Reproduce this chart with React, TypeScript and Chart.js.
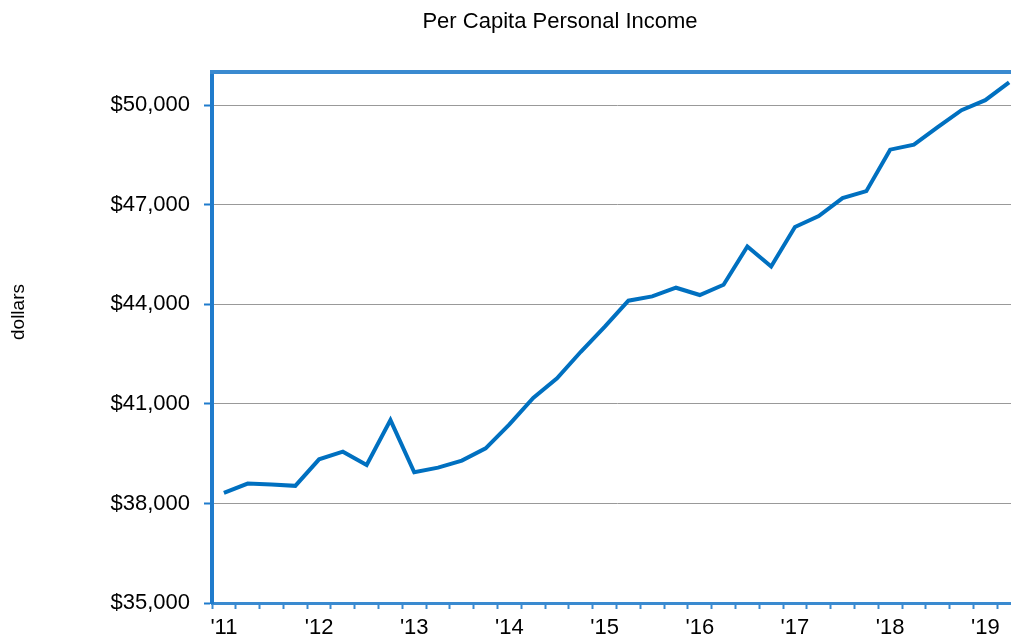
import React, { useEffect, useRef } from 'react';
import { Chart, registerables } from 'chart.js';

Chart.register(...registerables);

// Quarterly periods, Q1 2011 .. Q2 2019
const periods = [
  '2011Q1', '2011Q2', '2011Q3', '2011Q4',
  '2012Q1', '2012Q2', '2012Q3', '2012Q4',
  '2013Q1', '2013Q2', '2013Q3', '2013Q4',
  '2014Q1', '2014Q2', '2014Q3', '2014Q4',
  '2015Q1', '2015Q2', '2015Q3', '2015Q4',
  '2016Q1', '2016Q2', '2016Q3', '2016Q4',
  '2017Q1', '2017Q2', '2017Q3', '2017Q4',
  '2018Q1', '2018Q2', '2018Q3', '2018Q4',
  '2019Q1', '2019Q2',
];

const xTickLabels = [
  "'11", '', '', '',
  "'12", '', '', '',
  "'13", '', '', '',
  "'14", '', '', '',
  "'15", '', '', '',
  "'16", '', '', '',
  "'17", '', '', '',
  "'18", '', '', '',
  "'19", '',
];

const perCapitaIncome = [
  38320, 38600, 38570, 38530,
  39330, 39560, 39160, 40510,
  38940, 39080, 39290, 39660,
  40380, 41180, 41770, 42570,
  43320, 44110, 44240, 44500,
  44280, 44590, 45745, 45140,
  46330, 46660, 47200, 47410,
  48660, 48810, 49340, 49850,
  50150, 50690,
];

const yTickValues = [35000, 38000, 41000, 44000, 47000, 50000];
const yMin = 35000;
const yMax = 51000;

const chartTitle = 'Per Capita Personal Income';
const yAxisTitle = 'dollars';

const FONT = "'Liberation Sans', Arial, Helvetica, sans-serif";
const LINE_BLUE = '#0070C0';
const FRAME_BLUE = '#3a8ad0';
const AXIS_BLUE = '#1f7bcc';

const decorPlugin = {
  id: 'decor',
  afterDraw(chart: any) {
    const { ctx, chartArea } = chart;
    ctx.save();
    // top frame line
    ctx.strokeStyle = FRAME_BLUE;
    ctx.lineWidth = 4;
    ctx.beginPath();
    ctx.moveTo(chartArea.left - 2, chartArea.top);
    ctx.lineTo(chartArea.right, chartArea.top);
    ctx.stroke();
    // chart title
    ctx.fillStyle = '#000';
    ctx.font = `22px ${FONT}`;
    ctx.textAlign = 'center';
    ctx.textBaseline = 'alphabetic';
    ctx.fillText(chartTitle, 560, 28);
    // y-axis title
    ctx.translate(19, 312);
    ctx.rotate(-Math.PI / 2);
    ctx.font = `19px ${FONT}`;
    ctx.textAlign = 'center';
    ctx.textBaseline = 'middle';
    ctx.fillText(yAxisTitle, 0, 0);
    ctx.restore();
  },
};

export default function App() {
  const canvasRef = useRef<HTMLCanvasElement | null>(null);

  useEffect(() => {
    if (!canvasRef.current) return;
    Chart.defaults.font.family = FONT;
    const chart = new Chart(canvasRef.current, {
      type: 'line',
      data: {
        labels: periods,
        datasets: [
          {
            label: chartTitle,
            data: perCapitaIncome,
            borderColor: LINE_BLUE,
            backgroundColor: LINE_BLUE,
            borderWidth: 4,
            pointRadius: 0,
            tension: 0,
            fill: false,
          },
        ],
      },
      options: {
        animation: false,
        responsive: false,
        devicePixelRatio: 1,
        layout: { padding: { top: 72, left: 0, right: 0, bottom: 0 } },
        plugins: {
          legend: { display: false },
          title: { display: false },
          tooltip: { enabled: false },
        },
        scales: {
          x: {
            type: 'category',
            offset: true,
            grid: {
              offset: true,
              drawOnChartArea: false,
              drawTicks: true,
              tickLength: 6,
              tickColor: FRAME_BLUE,
              tickWidth: 2,
            },
            border: { display: true, color: FRAME_BLUE, width: 3 },
            ticks: {
              autoSkip: false,
              maxRotation: 0,
              minRotation: 0,
              padding: 6,
              color: '#000',
              font: { size: 22, family: FONT },
              callback: (_v: any, i: number) => xTickLabels[i],
            },
            afterFit: (scale: any) => {
              scale.height = 33;
            },
          },
          y: {
            type: 'linear',
            min: yMin,
            max: yMax,
            grid: {
              color: (c: any) => (c.tick && c.tick.value === yMin ? 'rgba(0,0,0,0)' : '#999999'),
              lineWidth: 1,
              drawTicks: true,
              tickLength: 8,
              tickColor: AXIS_BLUE,
              tickWidth: 2,
            },
            border: { display: true, color: AXIS_BLUE, width: 4 },
            ticks: {
              padding: 14,
              color: '#000',
              font: { size: 22, family: FONT },
              callback: (v: any) => '$' + Number(v).toLocaleString('en-US'),
            },
            afterBuildTicks: (scale: any) => {
              scale.ticks = yTickValues.map((v) => ({ value: v }));
            },
            afterFit: (scale: any) => {
              scale.width = 212;
            },
          },
        },
      },
      plugins: [decorPlugin],
    });
    return () => chart.destroy();
  }, []);

  return (
    <div
      style={{
        position: 'fixed',
        left: 0,
        top: 0,
        width: 1011,
        height: 636,
        overflow: 'hidden',
        background: '#fff',
      }}
    >
      <canvas
        ref={canvasRef}
        width={1021}
        height={636}
        style={{ display: 'block', width: 1021, height: 636 }}
      />
    </div>
  );
}
